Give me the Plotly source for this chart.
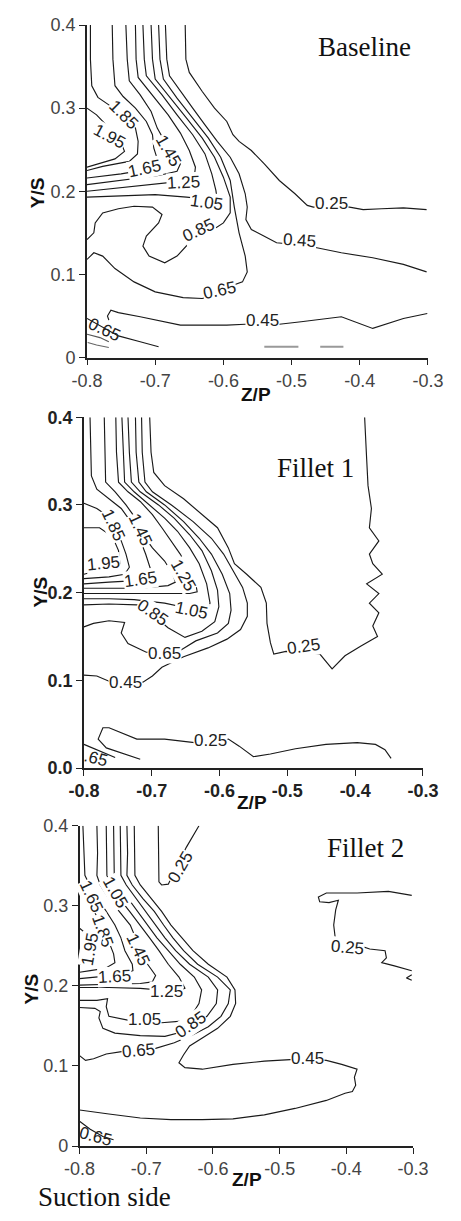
import plotly.graph_objects as go

# ===================== axis ticks =====================
zp_ticks = [-0.8, -0.7, -0.6, -0.5, -0.4, -0.3]
zp_text = ["-0.8", "-0.7", "-0.6", "-0.5", "-0.4", "-0.3"]
ys_ticks = [0.0, 0.1, 0.2, 0.3, 0.4]
ys_text_a = ["0", "0.1", "0.2", "0.3", "0.4"]
ys_text_b = ["0.0", "0.1", "0.2", "0.3", "0.4"]

# ===================== Baseline (panel 1) contour lines (Z/P, Y/S) =====================
b025_z = [-0.656, -0.655, -0.650, -0.631, -0.613, -0.595, -0.586, -0.577, -0.559, -0.540, -0.518, -0.495, -0.477, -0.468, -0.415, -0.395, -0.368, -0.336, -0.302]
b025_y = [0.400, 0.359, 0.343, 0.320, 0.300, 0.284, 0.268, 0.260, 0.249, 0.233, 0.213, 0.197, 0.183, 0.181, 0.181, 0.178, 0.179, 0.180, 0.178]
b045_z = [-0.685, -0.683, -0.679, -0.663, -0.645, -0.627, -0.609, -0.590, -0.577, -0.568, -0.565, -0.567, -0.559, -0.540, -0.522, -0.495, -0.463, -0.427, -0.381, -0.336, -0.302]
b045_y = [0.400, 0.359, 0.339, 0.320, 0.300, 0.280, 0.260, 0.241, 0.221, 0.197, 0.181, 0.166, 0.154, 0.146, 0.138, 0.136, 0.132, 0.126, 0.120, 0.112, 0.103]
b065_z = [-0.695, -0.693, -0.688, -0.668, -0.645, -0.622, -0.604, -0.590, -0.584, -0.577, -0.568, -0.565, -0.572, -0.586, -0.613, -0.631, -0.659, -0.700, -0.731, -0.759, -0.777, -0.790, -0.800]
b065_y = [0.400, 0.359, 0.335, 0.312, 0.288, 0.264, 0.241, 0.213, 0.181, 0.150, 0.122, 0.103, 0.091, 0.087, 0.075, 0.071, 0.072, 0.079, 0.091, 0.107, 0.122, 0.126, 0.118]
b085_z = [-0.706, -0.704, -0.700, -0.677, -0.654, -0.631, -0.613, -0.600, -0.590, -0.590, -0.600, -0.622, -0.650, -0.668, -0.686, -0.709, -0.718, -0.713, -0.695, -0.690, -0.704, -0.731, -0.754, -0.777, -0.788, -0.790, -0.800]
b085_y = [0.400, 0.359, 0.335, 0.312, 0.288, 0.264, 0.241, 0.217, 0.193, 0.174, 0.162, 0.150, 0.138, 0.122, 0.114, 0.122, 0.134, 0.146, 0.162, 0.172, 0.181, 0.182, 0.179, 0.174, 0.162, 0.150, 0.142]
b105_z = [-0.718, -0.716, -0.713, -0.690, -0.668, -0.645, -0.627, -0.617, -0.611, -0.609, -0.631, -0.654, -0.700, -0.745, -0.800]
b105_y = [0.400, 0.359, 0.339, 0.316, 0.292, 0.268, 0.245, 0.221, 0.201, 0.189, 0.191, 0.193, 0.196, 0.195, 0.193]
b125_z = [-0.729, -0.728, -0.725, -0.704, -0.681, -0.663, -0.650, -0.641, -0.643, -0.663, -0.695, -0.745, -0.800]
b125_y = [0.400, 0.359, 0.337, 0.316, 0.292, 0.270, 0.249, 0.229, 0.215, 0.212, 0.209, 0.205, 0.200]
b145_z = [-0.743, -0.741, -0.738, -0.722, -0.706, -0.697, -0.686, -0.672, -0.663, -0.668, -0.695, -0.745, -0.800]
b145_y = [0.400, 0.359, 0.333, 0.316, 0.296, 0.276, 0.260, 0.245, 0.233, 0.224, 0.219, 0.214, 0.208]
b165_z = [-0.763, -0.762, -0.759, -0.747, -0.729, -0.713, -0.704, -0.702, -0.697, -0.693, -0.713, -0.750, -0.800]
b165_y = [0.400, 0.359, 0.327, 0.314, 0.300, 0.284, 0.268, 0.252, 0.239, 0.231, 0.226, 0.221, 0.216]
b185_z = [-0.795, -0.795, -0.793, -0.784, -0.768, -0.747, -0.729, -0.725, -0.726, -0.738, -0.777, -0.800]
b185_y = [0.400, 0.359, 0.327, 0.313, 0.304, 0.290, 0.276, 0.260, 0.245, 0.236, 0.230, 0.225]
b195_z = [-0.800, -0.786, -0.772, -0.763, -0.750, -0.745, -0.759, -0.786, -0.800]
b195_y = [0.300, 0.292, 0.280, 0.268, 0.258, 0.248, 0.239, 0.232, 0.229]
b045b_z = [-0.768, -0.770, -0.765, -0.754, -0.722, -0.663, -0.631, -0.595, -0.568, -0.518, -0.486, -0.427, -0.381, -0.336, -0.301]
b045b_y = [0.045, 0.050, 0.057, 0.054, 0.049, 0.039, 0.039, 0.039, 0.040, 0.040, 0.043, 0.049, 0.035, 0.047, 0.053]
b065b_z = [-0.800, -0.754, -0.722, -0.695]
b065b_y = [0.047, 0.026, 0.019, 0.013]
b_s1_z = [-0.800, -0.781, -0.768]
b_s1_y = [0.028, 0.024, 0.019]
b_s2_z = [-0.799, -0.786, -0.768]
b_s2_y = [0.018, 0.015, 0.012]
b_gray1_z = [-0.540, -0.490]
b_gray1_y = [0.013, 0.013]
b_gray2_z = [-0.458, -0.424]
b_gray2_y = [0.013, 0.013]

b_lab_text = ["1.85", "1.95", "1.45", "1.65", "1.25", "1.05", "0.85", "0.65", "0.45", "0.25", "0.45"]
b_lab_z = [-0.747, -0.767, -0.681, -0.715, -0.658, -0.625, -0.637, -0.606, -0.488, -0.442, -0.543]
b_lab_y = [0.292, 0.266, 0.249, 0.228, 0.210, 0.186, 0.153, 0.081, 0.141, 0.185, 0.045]
b_lab_ang = [45, 28, 60, -12, -3, 8, -25, -12, 4, 0, 0]
b_lab2_text = ["0.65"]
b_lab2_z = [-0.775]
b_lab2_y = [0.034]
b_lab2_ang = [25]

# ===================== Fillet 1 (panel 2) =====================
f1_025_z = [-0.703, -0.701, -0.697, -0.681, -0.653, -0.626, -0.603, -0.587, -0.578, -0.560, -0.539, -0.531, -0.530, -0.525, -0.520, -0.502, -0.452, -0.434, -0.415, -0.392, -0.367, -0.374, -0.365, -0.379, -0.365, -0.383, -0.360, -0.374, -0.379, -0.365, -0.379, -0.376, -0.381, -0.383, -0.386]
f1_025_y = [0.400, 0.360, 0.337, 0.322, 0.307, 0.289, 0.274, 0.251, 0.233, 0.221, 0.206, 0.188, 0.165, 0.143, 0.130, 0.133, 0.130, 0.113, 0.128, 0.139, 0.150, 0.162, 0.177, 0.188, 0.199, 0.210, 0.221, 0.233, 0.244, 0.259, 0.274, 0.296, 0.322, 0.352, 0.400]
f1_045_z = [-0.715, -0.714, -0.710, -0.699, -0.671, -0.639, -0.612, -0.594, -0.580, -0.566, -0.559, -0.559, -0.569, -0.589, -0.617, -0.653, -0.685, -0.699, -0.713, -0.763, -0.781, -0.800]
f1_045_y = [0.400, 0.360, 0.326, 0.315, 0.300, 0.281, 0.262, 0.244, 0.225, 0.206, 0.188, 0.173, 0.158, 0.147, 0.137, 0.127, 0.115, 0.105, 0.098, 0.099, 0.105, 0.106]
f1_065_z = [-0.724, -0.723, -0.719, -0.708, -0.681, -0.653, -0.630, -0.612, -0.596, -0.585, -0.583, -0.587, -0.603, -0.635, -0.658, -0.708, -0.735, -0.745, -0.740, -0.763, -0.786, -0.800]
f1_065_y = [0.400, 0.360, 0.326, 0.315, 0.300, 0.281, 0.262, 0.244, 0.221, 0.199, 0.180, 0.165, 0.154, 0.145, 0.134, 0.132, 0.142, 0.154, 0.166, 0.168, 0.165, 0.161]
f1_085_z = [-0.735, -0.733, -0.730, -0.717, -0.690, -0.667, -0.644, -0.626, -0.612, -0.603, -0.601, -0.607, -0.626, -0.651, -0.676, -0.699, -0.722, -0.763, -0.800]
f1_085_y = [0.400, 0.360, 0.326, 0.315, 0.300, 0.285, 0.266, 0.248, 0.225, 0.203, 0.184, 0.167, 0.156, 0.149, 0.160, 0.175, 0.186, 0.187, 0.186]
f1_105_z = [-0.744, -0.742, -0.740, -0.726, -0.703, -0.681, -0.662, -0.644, -0.630, -0.619, -0.614, -0.619, -0.644, -0.681, -0.726, -0.763, -0.800]
f1_105_y = [0.400, 0.360, 0.326, 0.315, 0.300, 0.285, 0.270, 0.251, 0.233, 0.210, 0.188, 0.180, 0.182, 0.188, 0.192, 0.193, 0.193]
f1_125_z = [-0.753, -0.752, -0.749, -0.735, -0.717, -0.699, -0.685, -0.671, -0.658, -0.644, -0.635, -0.633, -0.644, -0.694, -0.763, -0.800]
f1_125_y = [0.400, 0.360, 0.326, 0.315, 0.304, 0.289, 0.274, 0.259, 0.244, 0.225, 0.210, 0.201, 0.199, 0.199, 0.199, 0.199]
f1_145_z = [-0.770, -0.769, -0.768, -0.754, -0.738, -0.724, -0.713, -0.699, -0.681, -0.669, -0.665, -0.676, -0.717, -0.763, -0.800]
f1_145_y = [0.400, 0.360, 0.326, 0.315, 0.300, 0.285, 0.266, 0.251, 0.236, 0.221, 0.212, 0.208, 0.205, 0.205, 0.205]
f1_165_z = [-0.791, -0.790, -0.789, -0.781, -0.763, -0.745, -0.731, -0.718, -0.709, -0.701, -0.703, -0.717, -0.763, -0.800]
f1_165_y = [0.400, 0.360, 0.333, 0.318, 0.307, 0.296, 0.281, 0.262, 0.244, 0.225, 0.218, 0.214, 0.212, 0.210]
f1_185_z = [-0.800, -0.781, -0.768, -0.754, -0.745, -0.738, -0.733, -0.740, -0.763, -0.800]
f1_185_y = [0.302, 0.296, 0.289, 0.274, 0.259, 0.244, 0.229, 0.221, 0.218, 0.216]
f1_195_z = [-0.800, -0.777, -0.758, -0.749, -0.747, -0.758, -0.781, -0.800]
f1_195_y = [0.274, 0.274, 0.264, 0.248, 0.233, 0.225, 0.225, 0.221]
f1_025b_z = [-0.717, -0.749, -0.767, -0.779, -0.772, -0.763, -0.722, -0.681, -0.637, -0.587, -0.571, -0.550, -0.525, -0.488, -0.443, -0.397, -0.370, -0.356, -0.347]
f1_025b_y = [0.010, 0.018, 0.023, 0.033, 0.046, 0.046, 0.033, 0.033, 0.029, 0.033, 0.025, 0.013, 0.016, 0.022, 0.027, 0.029, 0.027, 0.021, 0.011]
f1_065b_z = [-0.800, -0.781, -0.754]
f1_065b_y = [0.027, 0.021, 0.012]

f1_lab_text = ["1.85", "1.95", "1.45", "1.65", "1.25", "1.05", "0.85", "0.65", "0.45", "0.25", "0.25"]
f1_lab_z = [-0.756, -0.771, -0.717, -0.716, -0.653, -0.641, -0.699, -0.681, -0.738, -0.476, -0.613]
f1_lab_y = [0.277, 0.233, 0.272, 0.215, 0.220, 0.180, 0.177, 0.131, 0.098, 0.139, 0.031]
f1_lab_ang = [65, -5, 65, -8, 60, 12, 35, 0, 0, -8, 0]
f1_lab2_text = [".65"]
f1_lab2_z = [-0.782]
f1_lab2_y = [0.011]
f1_lab2_ang = [15]

# ===================== Fillet 2 (panel 3) =====================
f2_195_z = [-0.800, -0.791, -0.781, -0.777, -0.779, -0.791, -0.800]
f2_195_y = [0.272, 0.266, 0.254, 0.240, 0.229, 0.227, 0.227]
f2_185_z = [-0.800, -0.791, -0.777, -0.765, -0.756, -0.749, -0.747, -0.761, -0.784, -0.800]
f2_185_y = [0.317, 0.307, 0.291, 0.274, 0.256, 0.240, 0.229, 0.222, 0.219, 0.217]
f2_165_z = [-0.795, -0.793, -0.792, -0.785, -0.772, -0.760, -0.747, -0.738, -0.732, -0.721, -0.720, -0.737, -0.765, -0.800]
f2_165_y = [0.400, 0.366, 0.338, 0.326, 0.309, 0.293, 0.276, 0.260, 0.244, 0.227, 0.219, 0.214, 0.212, 0.209]
f2_145_z = [-0.774, -0.773, -0.774, -0.769, -0.756, -0.740, -0.724, -0.716, -0.709, -0.698, -0.686, -0.691, -0.709, -0.756, -0.800]
f2_145_y = [0.400, 0.366, 0.338, 0.326, 0.309, 0.293, 0.276, 0.260, 0.244, 0.227, 0.213, 0.205, 0.203, 0.202, 0.201]
f2_125_z = [-0.760, -0.759, -0.759, -0.753, -0.740, -0.725, -0.709, -0.695, -0.681, -0.667, -0.651, -0.642, -0.653, -0.686, -0.709, -0.756, -0.800]
f2_125_y = [0.400, 0.366, 0.338, 0.326, 0.309, 0.293, 0.276, 0.260, 0.244, 0.227, 0.211, 0.197, 0.193, 0.195, 0.197, 0.198, 0.198]
f2_105_z = [-0.749, -0.748, -0.748, -0.742, -0.727, -0.712, -0.698, -0.684, -0.667, -0.649, -0.628, -0.617, -0.621, -0.630, -0.647, -0.677, -0.726, -0.756, -0.760, -0.758, -0.774, -0.800]
f2_105_y = [0.400, 0.366, 0.340, 0.326, 0.309, 0.293, 0.276, 0.260, 0.244, 0.227, 0.211, 0.195, 0.178, 0.166, 0.156, 0.154, 0.157, 0.162, 0.174, 0.184, 0.182, 0.182]
f2_085_z = [-0.739, -0.738, -0.738, -0.730, -0.715, -0.700, -0.686, -0.672, -0.656, -0.635, -0.607, -0.593, -0.595, -0.609, -0.628, -0.644, -0.672, -0.709, -0.747, -0.765, -0.771, -0.769, -0.777, -0.800]
f2_085_y = [0.400, 0.366, 0.338, 0.326, 0.309, 0.293, 0.276, 0.260, 0.244, 0.227, 0.211, 0.195, 0.178, 0.162, 0.151, 0.143, 0.137, 0.138, 0.141, 0.147, 0.160, 0.168, 0.172, 0.173]
f2_065_z = [-0.729, -0.728, -0.729, -0.721, -0.705, -0.688, -0.674, -0.660, -0.644, -0.623, -0.593, -0.574, -0.577, -0.588, -0.607, -0.630, -0.658, -0.686, -0.709, -0.737, -0.760, -0.779, -0.791, -0.800]
f2_065_y = [0.400, 0.366, 0.338, 0.326, 0.309, 0.293, 0.276, 0.260, 0.244, 0.227, 0.211, 0.195, 0.178, 0.162, 0.149, 0.139, 0.129, 0.122, 0.120, 0.118, 0.115, 0.109, 0.107, 0.113]
f2_045_z = [-0.718, -0.717, -0.717, -0.709, -0.693, -0.677, -0.663, -0.647, -0.630, -0.607, -0.579, -0.567, -0.566, -0.574, -0.593, -0.616, -0.635, -0.644, -0.651, -0.642, -0.616, -0.570, -0.523, -0.484, -0.458, -0.430, -0.407, -0.384, -0.388, -0.386, -0.391, -0.402, -0.430, -0.477, -0.523, -0.570, -0.616, -0.663, -0.709, -0.756, -0.779, -0.800]
f2_045_y = [0.400, 0.366, 0.338, 0.326, 0.309, 0.293, 0.276, 0.260, 0.244, 0.227, 0.211, 0.195, 0.178, 0.162, 0.147, 0.135, 0.125, 0.114, 0.104, 0.098, 0.096, 0.102, 0.106, 0.108, 0.109, 0.107, 0.102, 0.096, 0.086, 0.076, 0.068, 0.066, 0.057, 0.047, 0.039, 0.034, 0.033, 0.033, 0.035, 0.040, 0.043, 0.045]
f2_025a_z = [-0.682, -0.681, -0.681, -0.677, -0.667, -0.640, -0.630, -0.621]
f2_025a_y = [0.400, 0.366, 0.330, 0.326, 0.327, 0.373, 0.387, 0.400]
f2_025b_z = [-0.302, -0.337, -0.384, -0.430, -0.442, -0.440, -0.426, -0.412, -0.416, -0.419, -0.417, -0.416, -0.399, -0.379, -0.365, -0.342, -0.340, -0.347, -0.328, -0.302]
f2_025b_y = [0.313, 0.318, 0.316, 0.316, 0.311, 0.305, 0.304, 0.307, 0.295, 0.276, 0.262, 0.256, 0.248, 0.250, 0.246, 0.244, 0.235, 0.229, 0.225, 0.219]
f2_mark_z = [-0.302, -0.310, -0.302]
f2_mark_y = [0.214, 0.210, 0.207]
f2_065b_z = [-0.800, -0.784, -0.765, -0.749]
f2_065b_y = [0.031, 0.021, 0.012, 0.008]

f2_lab_text = ["1.65", "1.05", "1.85", "1.95", "1.45", "1.65", "1.25", "1.05", "0.85", "0.65", "0.45", "0.25", "0.25"]
f2_lab_z = [-0.783, -0.746, -0.766, -0.785, -0.713, -0.747, -0.670, -0.702, -0.633, -0.711, -0.458, -0.649, -0.399]
f2_lab_y = [0.311, 0.317, 0.269, 0.246, 0.245, 0.212, 0.193, 0.158, 0.152, 0.119, 0.109, 0.348, 0.248]
f2_lab_ang = [65, 60, 70, -80, 65, -3, 0, 0, -35, -5, 0, -60, 5]
f2_lab2_text = ["0.65"]
f2_lab2_z = [-0.776]
f2_lab2_y = [0.012]
f2_lab2_ang = [15]

# ===================== build figure =====================
W, H = 461, 1221
SANS = "Liberation Sans, Arial, sans-serif"
SERIF = "Liberation Serif, Times New Roman, serif"
LC = "#1a1a1a"
LAB = 17

fig = go.Figure()


def add_line(z, y, ax, color=LC, width=1.15):
    fig.add_trace(go.Scatter(x=z, y=y, mode="lines", line=dict(color=color, width=width),
                             xaxis=ax[0], yaxis=ax[1], hoverinfo="skip", showlegend=False))


P1 = ("x", "y")
P2 = ("x2", "y2")
P3 = ("x3", "y3")

for z, y in [(b025_z, b025_y), (b045_z, b045_y), (b065_z, b065_y), (b085_z, b085_y),
             (b105_z, b105_y), (b125_z, b125_y), (b145_z, b145_y), (b165_z, b165_y),
             (b185_z, b185_y), (b195_z, b195_y), (b045b_z, b045b_y), (b065b_z, b065b_y)]:
    add_line(z, y, P1)
add_line(b_s1_z, b_s1_y, P1, color="#555")
add_line(b_s2_z, b_s2_y, P1, color="#666")
add_line(b_gray1_z, b_gray1_y, P1, color="#999", width=2)
add_line(b_gray2_z, b_gray2_y, P1, color="#999", width=2)

for z, y in [(f1_025_z, f1_025_y), (f1_045_z, f1_045_y), (f1_065_z, f1_065_y), (f1_085_z, f1_085_y),
             (f1_105_z, f1_105_y), (f1_125_z, f1_125_y), (f1_145_z, f1_145_y), (f1_165_z, f1_165_y),
             (f1_185_z, f1_185_y), (f1_195_z, f1_195_y), (f1_025b_z, f1_025b_y), (f1_065b_z, f1_065b_y)]:
    add_line(z, y, P2)

for z, y in [(f2_195_z, f2_195_y), (f2_185_z, f2_185_y), (f2_165_z, f2_165_y), (f2_145_z, f2_145_y),
             (f2_125_z, f2_125_y), (f2_105_z, f2_105_y), (f2_085_z, f2_085_y), (f2_065_z, f2_065_y),
             (f2_045_z, f2_045_y), (f2_025a_z, f2_025a_y), (f2_025b_z, f2_025b_y),
             (f2_mark_z, f2_mark_y), (f2_065b_z, f2_065b_y)]:
    add_line(z, y, P3)

annotations = []


def add_labels(texts, zs, ys, angs, ax, bg="white"):
    for t, z, y, a in zip(texts, zs, ys, angs):
        annotations.append(dict(text=t, x=z, y=y, xref=ax[0], yref=ax[1], showarrow=False,
                                textangle=a, bgcolor=bg, borderpad=0,
                                font=dict(family=SANS, size=LAB, color="#222")))


add_labels(b_lab_text, b_lab_z, b_lab_y, b_lab_ang, P1)
add_labels(b_lab2_text, b_lab2_z, b_lab2_y, b_lab2_ang, P1, bg="rgba(0,0,0,0)")
add_labels(f1_lab_text, f1_lab_z, f1_lab_y, f1_lab_ang, P2)
add_labels(f1_lab2_text, f1_lab2_z, f1_lab2_y, f1_lab2_ang, P2, bg="rgba(0,0,0,0)")
add_labels(f2_lab_text, f2_lab_z, f2_lab_y, f2_lab_ang, P3)
add_labels(f2_lab2_text, f2_lab2_z, f2_lab2_y, f2_lab2_ang, P3, bg="rgba(0,0,0,0)")


def page_note(text, px, py, size, family, bold=False, angle=0, xanchor="center"):
    annotations.append(dict(text=("<b>%s</b>" % text) if bold else text, x=px / W, y=1 - py / H,
                            xref="paper", yref="paper", showarrow=False, textangle=angle,
                            xanchor=xanchor, yanchor="middle",
                            font=dict(family=family, size=size, color="#111")))


# panel titles
page_note("Baseline", 375, 38, 27, SERIF)
page_note("Fillet 1", 322, 466, 27, SERIF)
page_note("Fillet 2", 376, 852, 27, SERIF)
page_note("Suction side", 21, 1207, 27, SERIF, xanchor="left")
# axis titles
page_note("Z/P", 258, 391, 19, SANS, bold=True)
page_note("Y/S", 24, 186, 19, SANS, bold=True, angle=-90)
page_note("Z/P", 254, 806, 19, SANS, bold=True)
page_note("Y/S", 26, 592, 19, SANS, bold=True, angle=-90)
page_note("Z/P", 248, 1189, 19, SANS, bold=True)
page_note("Y/S", 17, 995, 19, SANS, bold=True, angle=-90)


def xdom(left, right):
    return [left / W, right / W]


def ydom(top, bottom):
    return [1 - bottom / H, 1 - top / H]


def xaxis(dom, anchor, bold=False):
    txt = ["<b>%s</b>" % t for t in zp_text] if bold else zp_text
    return dict(domain=dom, anchor=anchor, range=[-0.8, -0.3], tickmode="array",
                tickvals=zp_ticks, ticktext=txt, showgrid=False, zeroline=False,
                showline=True, linecolor="#222", linewidth=1.6, ticks="outside",
                ticklen=6, tickwidth=1.3, tickcolor="#222", mirror=False,
                tickfont=dict(family=SANS, size=18, color="#222" if bold else "#444"),
                fixedrange=True)


def yaxis(dom, anchor, labels, bold=False):
    txt = ["<b>%s</b>" % t for t in labels] if bold else labels
    return dict(domain=dom, anchor=anchor, range=[0, 0.4], tickmode="array",
                tickvals=ys_ticks, ticktext=txt, showgrid=False, zeroline=False,
                showline=True, linecolor="#222", linewidth=1.6, ticks="outside",
                ticklen=6, tickwidth=1.3, tickcolor="#222",
                tickfont=dict(family=SANS, size=18, color="#222" if bold else "#444"),
                fixedrange=True)


fig.update_layout(
    width=W, height=H, margin=dict(l=0, r=0, t=0, b=0),
    paper_bgcolor="white", plot_bgcolor="white", showlegend=False,
    xaxis=xaxis(xdom(76.3, 442.7), "y"),
    yaxis=yaxis(ydom(15.3, 353.3), "x", ys_text_a),
    xaxis2=xaxis(xdom(73.0, 437.3), "y2", bold=True),
    yaxis2=yaxis(ydom(414.0, 770.7), "x2", ys_text_b, bold=True),
    xaxis3=xaxis(xdom(68.3, 426.7), "y3"),
    yaxis3=yaxis(ydom(829.3, 1155.0), "x3", ys_text_a),
    annotations=annotations,
)

fig.write_html("out.html")
